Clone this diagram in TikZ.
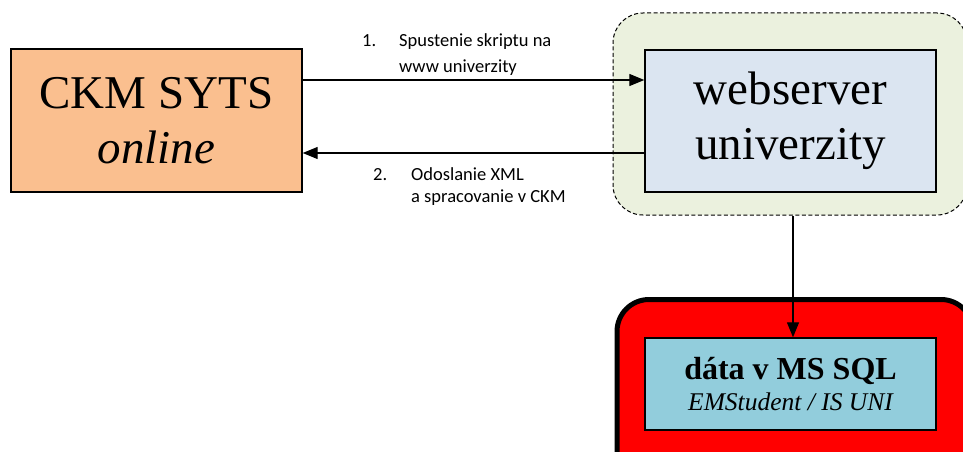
\documentclass[tikz,border=0pt]{standalone}
\usepackage{fontspec}
\setmainfont{Liberation Serif}
\newfontfamily\calfont{Carlito}
\usetikzlibrary{arrows.meta}
\definecolor{ckmfill}{HTML}{FABF8F}
\definecolor{greenfill}{HTML}{EBF1DE}
\definecolor{webfill}{HTML}{DBE5F1}
\definecolor{datafill}{HTML}{92CDDC}
\definecolor{redfill}{HTML}{FF0000}
\tikzset{
  box/.style={draw=black, line width=1.4pt, inner sep=0pt, align=center},
  conn/.style={line width=1.3pt, -{Triangle[length=15pt,width=12pt]}},
  lbl/.style={font=\calfont\fontsize{18.5}{22}\selectfont, anchor=base west, inner sep=0pt},
}
\begin{document}
\begin{tikzpicture}[x=1pt,y=-1pt]
\useasboundingbox (0,0) rectangle (963,452);
% background containers
\node[draw=black, dash pattern=on 4pt off 2.5pt, line width=1pt, fill=greenfill,
  rounded corners=30pt, minimum width=354pt, minimum height=202pt, inner sep=0pt]
  (zone) at (790,114) {};
\node[draw=black, line width=5pt, fill=redfill, rounded corners=32pt,
  minimum width=356pt, minimum height=185pt, inner sep=0pt]
  (redzone) at (795,392) {};
% boxes
\node[box, fill=ckmfill, minimum width=291pt, minimum height=143pt,
  font=\fontsize{47}{55}\selectfont] (ckm) at (156.5,120.5) {CKM SYTS\\\textit{online}};
\node[box, fill=webfill, minimum width=291pt, minimum height=142pt,
  font=\fontsize{47}{55}\selectfont] (web) at (790.5,121) {webserver\\univerzity};
\node[box, fill=datafill, minimum width=291pt, minimum height=92pt] (data) at (790.5,384) {};
\node[inner sep=0pt, anchor=base, font=\fontsize{32}{32}\selectfont\bfseries] (datat1)
  at (790.5,379) {dáta v MS SQL};
\node[inner sep=0pt, anchor=base, font=\fontsize{25.5}{26}\selectfont\itshape] (datat2)
  at (790.5,410) {EMStudent / IS UNI};
% connectors
\draw[conn] ([yshift=40.5pt]ckm.east) -- ([yshift=41pt]web.west);
\draw[conn] ([yshift=-32pt]web.west) -- ([yshift=-32.5pt]ckm.east);
\draw[conn] ([xshift=2.5pt]zone.south -| web.south) -- ([xshift=2.5pt]data.north);
% labels
\node[lbl] (l1n) at (362,47) {1.};
\node[lbl] (l1a) at (399,47) {Spustenie skriptu na};
\node[lbl] (l1b) at (399,72) {www univerzity};
\node[lbl] (l2n) at (373,180) {2.};
\node[lbl] (l2a) at (411,180) {Odoslanie XML};
\node[lbl] (l2b) at (411,202) {a spracovanie v CKM};
\end{tikzpicture}
\end{document}
